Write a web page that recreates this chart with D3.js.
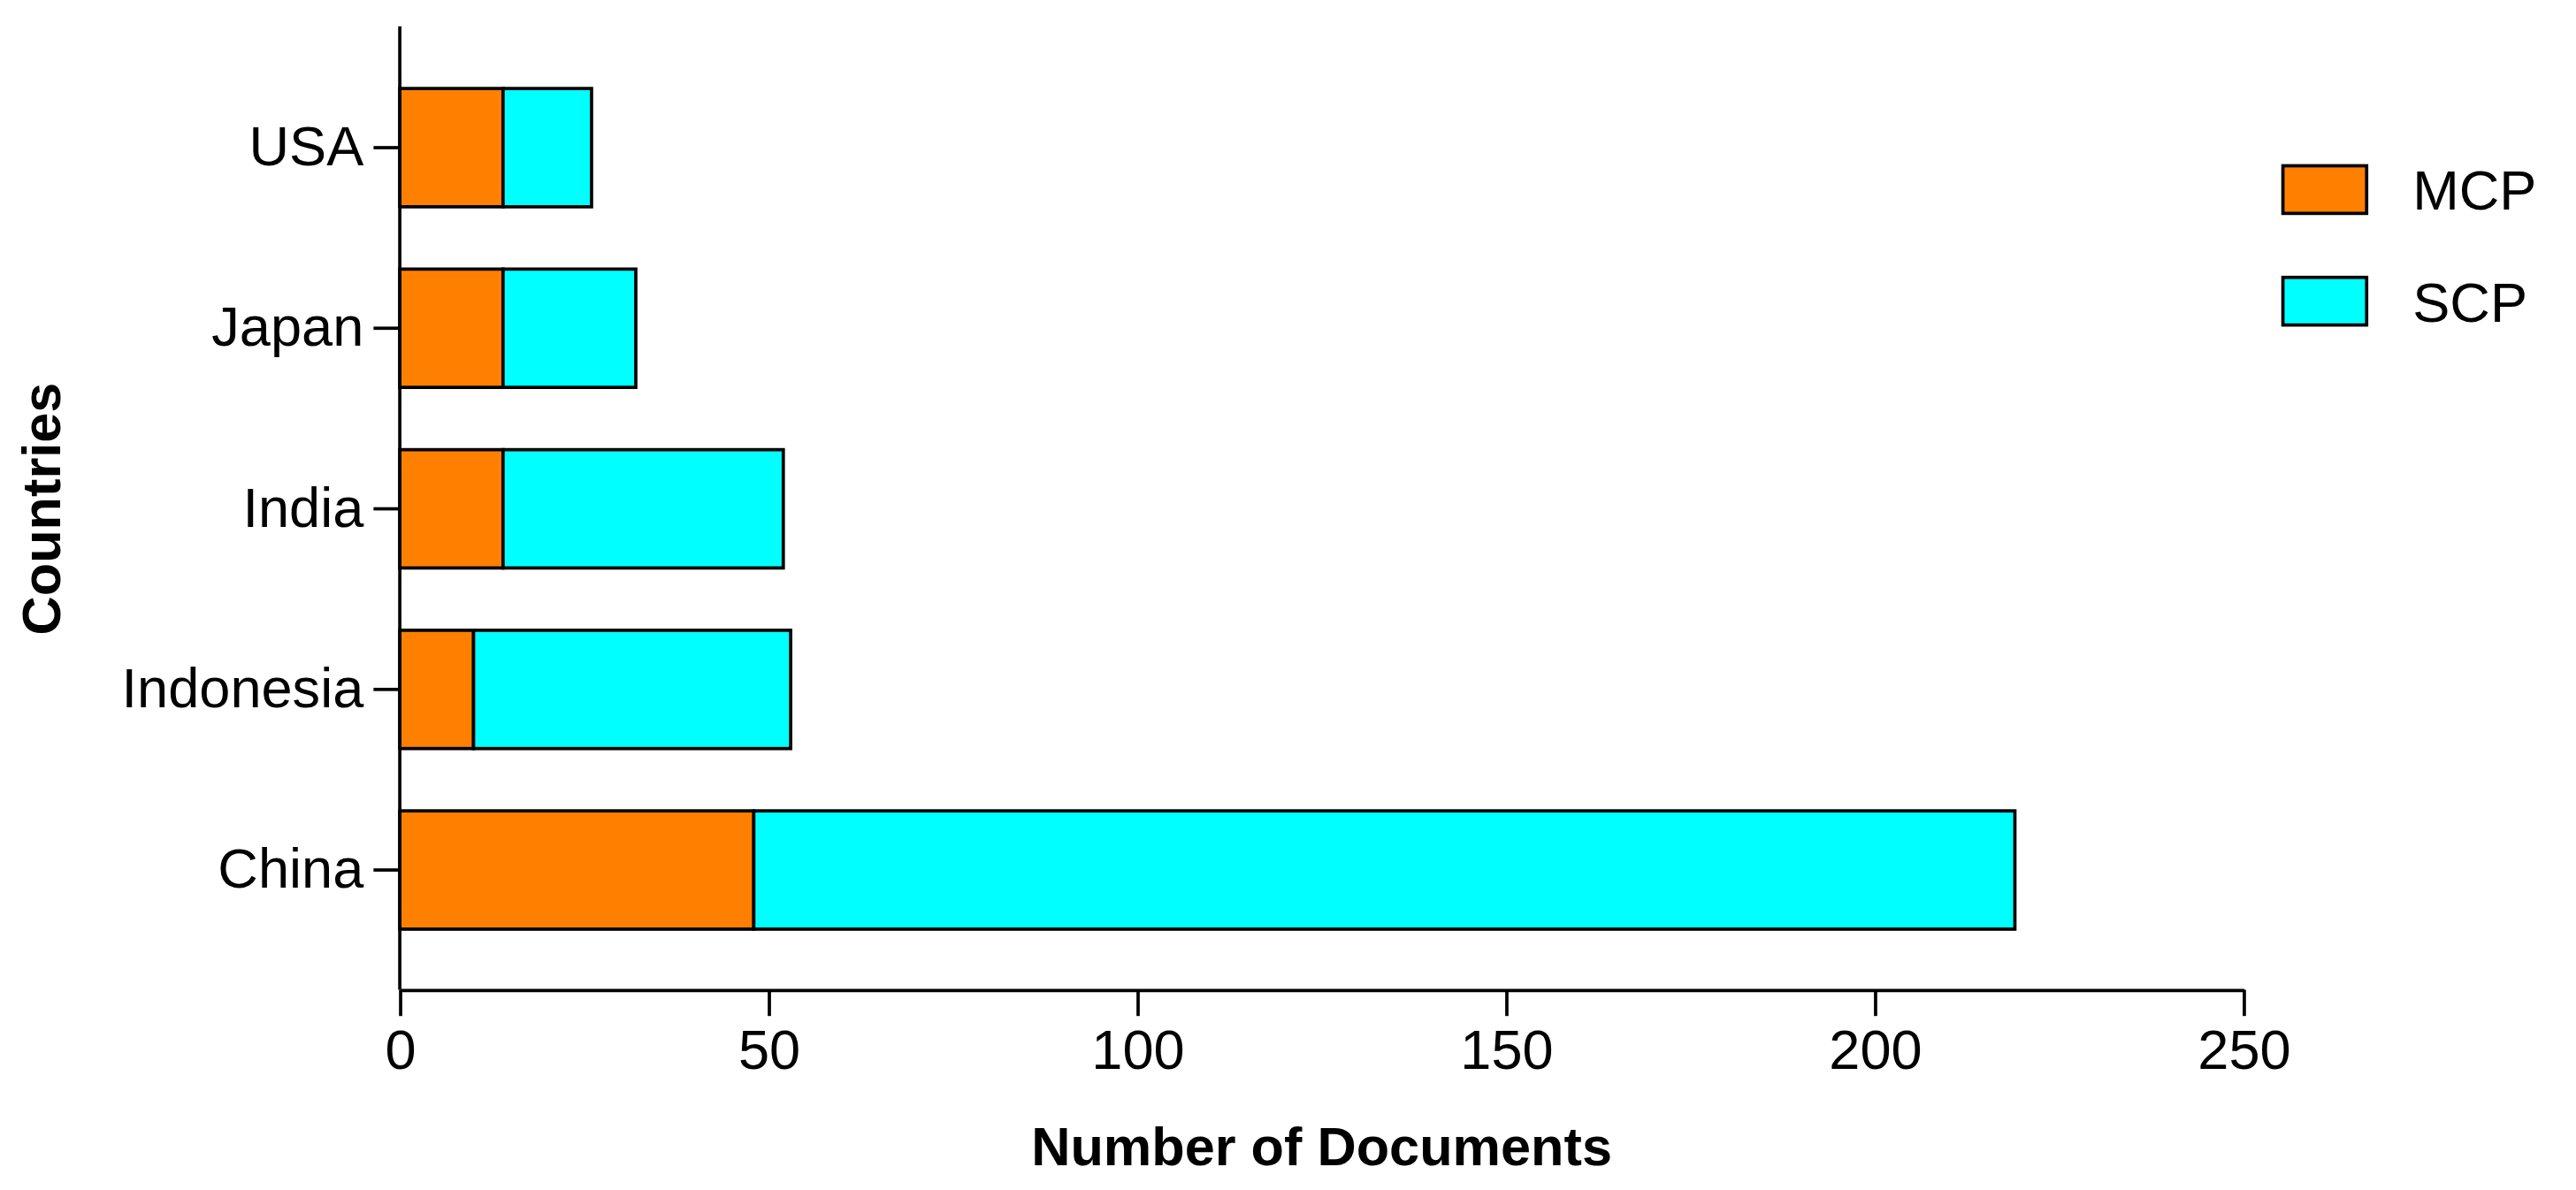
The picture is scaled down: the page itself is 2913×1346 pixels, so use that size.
<!DOCTYPE html>
<html>
<head>
<meta charset="utf-8">
<script src="https://cdn.jsdelivr.net/npm/d3@7"></script>
<style>
  body { margin: 0; background: #fff; overflow: hidden; }
  svg { display: block; }
  text { font-family: "Liberation Sans", Arial, sans-serif; fill: #000; }
</style>
</head>
<body>
<div id="chart"></div>
<script>
const countries = ["USA", "Japan", "India", "Indonesia", "China"];
const mcp = [14, 14, 14, 10, 48];
const scp = [12, 18, 38, 43, 171];
const seriesNames = ["MCP", "SCP"];
const seriesColors = ["#ff8000", "#00ffff"];
const xTicks = [0, 50, 100, 150, 200, 250];

// drawn in a 1568x725 space, then scaled up to the page
const W = 1568, H = 725;
const svg = d3.select("#chart").append("svg")
    .attr("width", 2913).attr("height", 1346)
    .attr("viewBox", `0 0 ${W} ${H}`);

const x = d3.scaleLinear().domain([0, 250]).range([243, 1366]);
const y = d3.scaleBand().domain(countries).range([35, 585]).paddingInner(0.345).paddingOuter(0.172);

const rows = countries.map((c, i) => ({ c, vals: [mcp[i], scp[i]] }));

const g = svg.append("g");
rows.forEach(r => {
    let start = 0;
    r.vals.forEach((v, k) => {
        g.append("rect")
            .attr("x", x(start))
            .attr("y", y(r.c))
            .attr("width", x(start + v) - x(start))
            .attr("height", y.bandwidth())
            .attr("fill", seriesColors[k])
            .attr("stroke", "#000")
            .attr("stroke-width", 2);
        start += v;
    });
});

// axes
const xAxis = svg.append("g")
    .attr("transform", "translate(0,603)")
    .call(d3.axisBottom(x).tickValues(xTicks).tickSize(16).tickPadding(8).tickSizeOuter(0));
const yAxis = svg.append("g")
    .attr("transform", "translate(243,0)")
    .call(d3.axisLeft(y).tickSize(16).tickPadding(6).tickSizeOuter(0));
svg.append("line").attr("x1", 243).attr("x2", 243).attr("y1", 16).attr("y2", 603)
    .attr("stroke", "#000").attr("stroke-width", 2);

[xAxis, yAxis].forEach(a => {
    a.select(".domain").attr("stroke-width", 2);
    a.selectAll(".tick line").attr("stroke-width", 2);
    a.selectAll(".tick text").style("font-size", "34px").attr("font-family", "Liberation Sans, Arial, sans-serif");
});
yAxis.select(".domain").remove();

svg.append("text")
    .attr("x", x(125)).attr("y", 710)
    .attr("text-anchor", "middle")
    .style("font-size", "33px").style("font-weight", "bold")
    .text("Number of Documents");

svg.append("text")
    .attr("transform", "translate(36,310) rotate(-90)")
    .attr("text-anchor", "middle")
    .style("font-size", "33px").style("font-weight", "bold")
    .text("Countries");

// legend
const leg = svg.append("g").attr("transform", "translate(1390,101)");
seriesNames.forEach((n, k) => {
    leg.append("rect").attr("x", 0).attr("y", k * 68).attr("width", 51).attr("height", 29)
        .attr("fill", seriesColors[k]).attr("stroke", "#000").attr("stroke-width", 2);
    leg.append("text").attr("x", 79).attr("y", k * 68 + 15).attr("dy", "0.35em")
        .style("font-size", "34px").text(n);
});
</script>
</body>
</html>
